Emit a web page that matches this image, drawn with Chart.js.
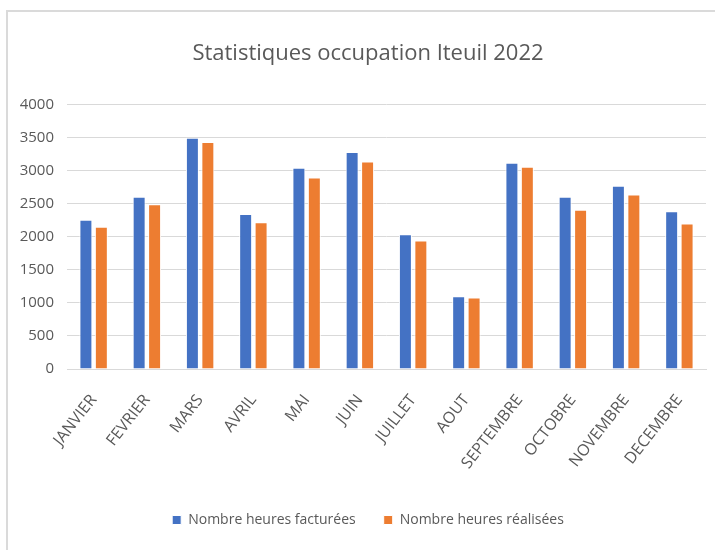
<!DOCTYPE html>
<html>
<head>
<meta charset="utf-8">
<script src="https://cdn.jsdelivr.net/npm/chart.js@4"></script>
<style>
    html, body { margin: 0; padding: 0; background: #fff; overflow: hidden; }
    #frame { position: absolute; left: 6px; top: 10px; width: 740px; height: 545px; border: 2px solid #dadada; }
    #myChart { display: block; }
</style>
</head>
<body>
<div id="frame"><canvas id="myChart" width="720" height="533"></canvas></div>
<script>
const COLOUR_FACTUREES = '#4472c4';
const COLOUR_REALISEES = '#ed7d31';
const TEXT_COLOUR = '#595959';
const FONT = '"Open Sans", sans-serif';

const months = ['JANVIER', 'FEVRIER', 'MARS', 'AVRIL', 'MAI', 'JUIN', 'JUILLET', 'AOUT', 'SEPTEMBRE', 'OCTOBRE', 'NOVEMBRE', 'DECEMBRE'];
const heuresFacturees = [2255, 2603, 3495, 2345, 3041, 3279, 2038, 1100, 3117, 2603, 2769, 2386];
const heuresRealisees = [2149, 2492, 3430, 2219, 2895, 3137, 1942, 1079, 3057, 2406, 2638, 2199];
const yTicks = [0, 500, 1000, 1500, 2000, 2500, 3000, 3500, 4000];

Chart.defaults.font.family = FONT;
Chart.defaults.color = TEXT_COLOUR;

// y labels hang into the left padding, so widen the axis box after layout or they get clipped
const widenYAxis = {
    id: 'widenYAxis',
    afterLayout: (chart) => { chart.scales.y.left = 0; }
};

var ctx = document.getElementById('myChart');
var myChart = new Chart(ctx, {
    type: 'bar',
    data: {
        labels: months,
        datasets: [{
            label: 'Nombre heures facturées',
            backgroundColor: COLOUR_FACTUREES,
            borderColor: '#ffffff',
            borderWidth: 1,
            data: heuresFacturees
        }, {
            label: 'Nombre heures réalisées',
            backgroundColor: COLOUR_REALISEES,
            borderColor: '#ffffff',
            borderWidth: 1,
            data: heuresRealisees
        }]
    },
    plugins: [widenYAxis],
    options: {
        responsive: false,
        animation: false,
        categoryPercentage: 0.58,
        barPercentage: 0.84,
        // left/right padding kept equal so title and legend sit in the middle of the frame
        layout: { padding: { left: 22, right: 22, top: 0, bottom: 8 } },
        plugins: {
            title: {
                display: true,
                text: 'Statistiques occupation Iteuil 2022',
                color: TEXT_COLOUR,
                font: { size: 22, weight: 'normal' },
                padding: { top: 29, bottom: 37 }
            },
            legend: {
                position: 'bottom',
                labels: {
                    boxWidth: 9,
                    boxHeight: 9,
                    padding: 28,
                    color: TEXT_COLOUR,
                    font: { size: 14 }
                }
            },
            tooltip: { enabled: false }
        },
        scales: {
            x: {
                afterFit: (s) => { s.height = 116; },
                grid: { display: false },
                border: { color: '#d9d9d9' },
                ticks: {
                    minRotation: 52,
                    maxRotation: 52,
                    padding: 14,
                    color: TEXT_COLOUR,
                    font: { size: 16 }
                }
            },
            y: {
                min: 0,
                max: 4000,
                afterFit: (s) => { s.width = 37; },
                afterBuildTicks: (s) => { s.ticks = yTicks.map((v) => ({ value: v })); },
                grid: { color: '#d9d9d9', drawTicks: false },
                border: { display: false },
                ticks: {
                    padding: 13,
                    color: TEXT_COLOUR,
                    font: { size: 15 },
                    callback: (v) => String(v)
                }
            }
        }
    }
});
</script>
</body>
</html>
